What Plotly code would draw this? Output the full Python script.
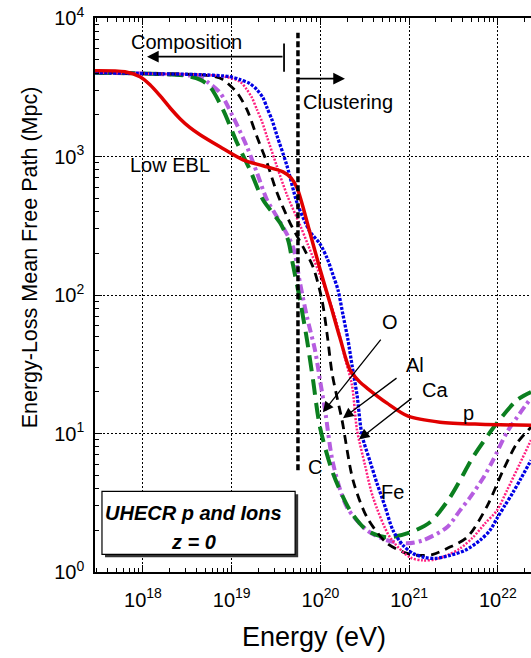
import plotly.graph_objects as go

# ---------------- data (log10 E [eV], log10 L [Mpc]) ----------------
p_logE = [17.459, 17.797, 17.966, 18.079, 18.192, 18.304, 18.417, 18.530, 18.643, 18.868,
          19.127, 19.353, 19.578, 19.669, 19.736, 19.883, 19.995, 20.108, 20.221, 20.334,
          20.446, 20.525, 20.751, 20.988, 21.348, 21.799, 22.374]
p_logL = [3.620, 3.612, 3.576, 3.518, 3.439, 3.352, 3.273, 3.208, 3.157, 3.070,
          2.976, 2.933, 2.889, 2.846, 2.774, 2.448, 2.188, 1.942, 1.689, 1.458,
          1.371, 1.328, 1.219, 1.125, 1.082, 1.067, 1.060]

fe_logE = [17.459, 18.079, 18.643, 18.981, 19.094, 19.206, 19.285, 19.353, 19.398, 19.454,
           19.511, 19.623, 19.736, 19.826, 19.883, 19.995, 20.074, 20.142, 20.198, 20.255,
           20.311, 20.356, 20.413, 20.469, 20.559, 20.638, 20.728, 20.818, 20.931, 21.044,
           21.179, 21.292, 21.461, 21.630, 21.799, 21.912, 21.991, 22.081, 22.171, 22.262, 22.374]
fe_logL = [3.605, 3.598, 3.591, 3.576, 3.555, 3.526, 3.482, 3.424, 3.352, 3.265,
           3.150, 2.933, 2.666, 2.528, 2.456, 2.369, 2.268, 2.145, 2.037, 1.855,
           1.675, 1.494, 1.277, 0.988, 0.800, 0.640, 0.474, 0.301, 0.193, 0.134,
           0.105, 0.098, 0.120, 0.156, 0.229, 0.301, 0.388, 0.482, 0.575, 0.677, 0.807]

ca_logE = [17.459, 18.079, 18.643, 18.924, 19.094, 19.172, 19.229, 19.285, 19.342, 19.398,
           19.511, 19.623, 19.770, 19.860, 20.029, 20.165, 20.277, 20.356, 20.413, 20.503,
           20.593, 20.785, 21.010, 21.157, 21.292, 21.427, 21.574, 21.720, 21.856, 21.991,
           22.104, 22.250, 22.374]
ca_logL = [3.605, 3.598, 3.591, 3.576, 3.540, 3.482, 3.424, 3.338, 3.251, 3.142,
           2.926, 2.723, 2.506, 2.362, 2.087, 1.841, 1.544, 1.349, 1.024, 0.771,
           0.539, 0.250, 0.105, 0.084, 0.091, 0.120, 0.170, 0.250, 0.351, 0.445,
           0.590, 0.785, 0.952]

al_logE = [17.459, 18.079, 18.643, 18.812, 18.902, 19.060, 19.172, 19.285, 19.398, 19.511,
           19.657, 19.804, 19.917, 20.018, 20.074, 20.131, 20.187, 20.244, 20.368, 20.525,
           20.751, 20.976, 21.123, 21.270, 21.427, 21.653, 21.878, 22.059, 22.216, 22.374]
al_logL = [3.605, 3.598, 3.591, 3.576, 3.555, 3.461, 3.338, 3.142, 2.955, 2.738,
           2.521, 2.347, 2.203, 1.964, 1.725, 1.437, 1.262, 1.096, 0.662, 0.395,
           0.207, 0.134, 0.120, 0.127, 0.170, 0.250, 0.474, 0.734, 0.930, 1.046]

o_logE = [17.459, 18.079, 18.530, 18.643, 18.722, 18.868, 19.015, 19.172, 19.285, 19.398,
          19.545, 19.691, 19.770, 19.849, 19.939, 19.995, 20.052, 20.142, 20.300, 20.525,
          20.751, 20.976, 21.157, 21.427, 21.574, 21.687, 21.833, 21.946, 22.104, 22.250, 22.374]
o_logL = [3.605, 3.598, 3.584, 3.569, 3.540, 3.461, 3.287, 3.070, 2.882, 2.687,
          2.528, 2.347, 2.087, 1.841, 1.602, 1.386, 1.169, 0.785, 0.467, 0.301,
          0.229, 0.207, 0.229, 0.323, 0.445, 0.539, 0.677, 0.807, 1.010, 1.147, 1.256]

c_logE = [17.459, 18.079, 18.474, 18.643, 18.755, 18.902, 19.060, 19.206, 19.353, 19.545,
          19.635, 19.691, 19.770, 19.849, 19.917, 19.995, 20.142, 20.334, 20.525, 20.751,
          21.010, 21.236, 21.461, 21.720, 21.833, 21.991, 22.216, 22.374]
c_logL = [3.605, 3.598, 3.584, 3.555, 3.504, 3.338, 3.099, 2.904, 2.687, 2.521,
          2.398, 2.217, 1.964, 1.675, 1.386, 1.046, 0.713, 0.445, 0.301, 0.250,
          0.286, 0.359, 0.539, 0.829, 0.937, 1.075, 1.241, 1.299]

# markers / annotations (log10 values)
cluster_logE = 19.747
cluster_logL = [0.735, 3.894]
comp_arrow = dict(head=(18.045, 3.721), tail=(19.590, 3.721))
comp_bar_logL = [3.612, 3.815]
clus_arrow = dict(head=(20.277, 3.562), tail=(19.736, 3.562))
ion_arrows = [((20.029, 1.154), (20.694, 1.689)),
              ((20.255, 1.111), (20.875, 1.408)),
              ((20.435, 0.958), (21.044, 1.262))]
labels = [("Composition", 18.485, 3.829), ("Clustering", 20.311, 3.395),
          ("Low EBL", 18.304, 2.940), ("O", 20.785, 1.805), ("Al", 21.067, 1.494),
          ("Ca", 21.292, 1.313), ("p", 21.675, 1.147), ("C", 19.939, 0.756),
          ("Fe", 20.818, 0.575)]

x_ticks = [1e18, 1e19, 1e20, 1e21, 1e22]
x_ticktext = ["10<sup>18</sup>", "10<sup>19</sup>", "10<sup>20</sup>", "10<sup>21</sup>", "10<sup>22</sup>"]
y_ticks = [1.0, 10.0, 100.0, 1000.0, 10000.0]
y_ticktext = ["10<sup>0</sup>", "10<sup>1</sup>", "10<sup>2</sup>", "10<sup>3</sup>", "10<sup>4</sup>"]

FONT = "Liberation Sans, Arial, sans-serif"


def lin(a):
    return [10.0 ** v for v in a]


fig = go.Figure()

series = [
    ("O", o_logE, o_logL, dict(color="#b65de0", width=4, dash="9px,4px,3px,4px")),
    ("C", c_logE, c_logL, dict(color="#0b7f1f", width=4, dash="16px,8px")),
    ("Al", al_logE, al_logL, dict(color="black", width=2.8, dash="9px,6px")),
    ("Ca", ca_logE, ca_logL, dict(color="#ff1f7f", width=2.5, dash="2px,1.5px")),
    ("Fe", fe_logE, fe_logL, dict(color="#0000e6", width=3.3, dash="3px,1.5px")),
    ("p", p_logE, p_logL, dict(color="#e00000", width=3.5)),
]
for name, lx, ly, line in series:
    fig.add_trace(go.Scatter(x=lin(lx), y=lin(ly), mode="lines", name=name,
                             line=dict(shape="spline", smoothing=0.8, **line),
                             showlegend=False, hoverinfo="skip"))

# clustering boundary (vertical dashed)
fig.add_trace(go.Scatter(x=lin([cluster_logE, cluster_logE]), y=lin(cluster_logL), mode="lines",
                         line=dict(color="black", width=3.5, dash="6px,3px"),
                         showlegend=False, hoverinfo="skip"))
# composition arrow end bar
fig.add_trace(go.Scatter(x=lin([comp_arrow["tail"][0]] * 2), y=lin(comp_bar_logL), mode="lines",
                         line=dict(color="black", width=1.8),
                         showlegend=False, hoverinfo="skip"))

annotations = []
for arr, w in ((comp_arrow, 1.8), (clus_arrow, 1.8)):
    annotations.append(dict(x=arr["head"][0], y=arr["head"][1], ax=arr["tail"][0], ay=arr["tail"][1],
                            xref="x", yref="y", axref="x", ayref="y", text="", showarrow=True,
                            arrowhead=2, arrowsize=1.3, arrowwidth=w, arrowcolor="black", standoff=0))
for head, tail in ion_arrows:
    annotations.append(dict(x=head[0], y=head[1], ax=tail[0], ay=tail[1],
                            xref="x", yref="y", axref="x", ayref="y", text="", showarrow=True,
                            arrowhead=2, arrowsize=1.6, arrowwidth=1.3, arrowcolor="black", standoff=0))
for txt, lx, ly in labels:
    annotations.append(dict(x=lx, y=ly, xref="x", yref="y", text=txt, showarrow=False,
                            font=dict(family=FONT, size=20, color="black"),
                            xanchor="center", yanchor="middle"))

# box text
annotations.append(dict(x=0.227, y=0.106, xref="paper", yref="paper",
                        text="<b><i>UHECR p and Ions</i></b>", showarrow=False,
                        font=dict(family=FONT, size=20, color="black"), xanchor="center", yanchor="middle"))
annotations.append(dict(x=0.227, y=0.0535, xref="paper", yref="paper",
                        text="<b><i>z = 0</i></b>", showarrow=False,
                        font=dict(family=FONT, size=20, color="black"), xanchor="center", yanchor="middle"))
# axis titles
annotations.append(dict(x=-0.149, y=0.568, xref="paper", yref="paper",
                        text="Energy-Loss Mean Free Path (Mpc)", textangle=-90, showarrow=False,
                        font=dict(family=FONT, size=21.5, color="black"), xanchor="center", yanchor="middle"))
annotations.append(dict(x=0.502, y=-0.117, xref="paper", yref="paper",
                        text="Energy (eV)", showarrow=False,
                        font=dict(family=FONT, size=27, color="black"), xanchor="center", yanchor="middle"))

shapes = [
    dict(type="rect", xref="paper", yref="paper", x0=0.023, x1=0.466, y0=0.0264, y1=0.1403,
         fillcolor="#333333", line=dict(width=0), layer="above"),
    dict(type="rect", xref="paper", yref="paper", x0=0.016, x1=0.459, y0=0.0318, y1=0.1457,
         fillcolor="white", line=dict(color="black", width=1.2), layer="above"),
]

minor_x = [m * 10.0 ** k for k in range(17, 23) for m in range(2, 10)]
minor_y = [m * 10.0 ** k for k in range(0, 4) for m in range(2, 10)]

axis_common = dict(type="log", showline=True, linecolor="black", linewidth=1.5,
                   ticks="inside", ticklen=7, tickwidth=1, tickcolor="black",
                   showgrid=True, gridcolor="black", gridwidth=1, griddash="2px,2px",
                   zeroline=False, tickmode="array",
                   tickfont=dict(family=FONT, size=20, color="black"))

fig.update_layout(
    width=531, height=658,
    margin=dict(l=95, r=0, t=18, b=86),
    paper_bgcolor="white", plot_bgcolor="white",
    xaxis=dict(range=[17.459, 22.374], tickvals=x_ticks, ticktext=x_ticktext, mirror="ticks",
               ticklabelstandoff=9,
               minor=dict(tickmode="array", tickvals=minor_x, ticks="inside", ticklen=4,
                          tickcolor="black", showgrid=False),
               **axis_common),
    yaxis=dict(range=[0, 4], tickvals=y_ticks, ticktext=y_ticktext,
               ticklabelstandoff=5,
               minor=dict(tickmode="array", tickvals=minor_y, ticks="inside", ticklen=4,
                          tickcolor="black", showgrid=False),
               **axis_common),
    annotations=annotations,
    shapes=shapes,
    showlegend=False,
)

fig.write_html("out.html", config={"displayModeBar": False},
               post_script="document.body.style.margin='0px';document.body.style.overflow='hidden';")
